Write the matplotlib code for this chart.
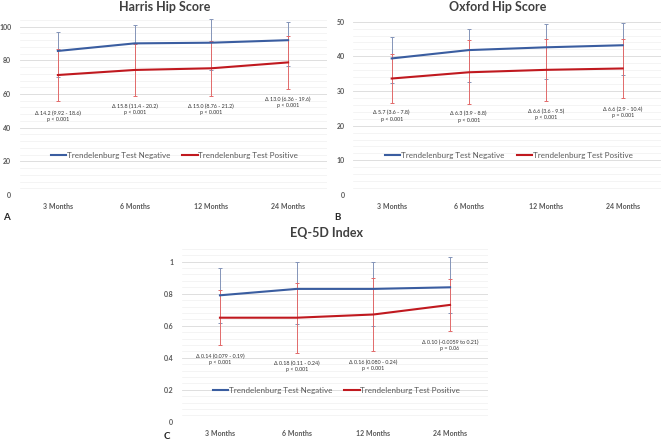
import numpy as np
import matplotlib
matplotlib.use("Agg")
import matplotlib.pyplot as plt

plt.rcParams['font.family'] = ['Lato', 'DejaVu Sans']

months = ["3 Months", "6 Months", "12 Months", "24 Months"]
labels = ["Trendelenburg Test Negative", "Trendelenburg Test Positive"]

# Harris Hip Score
hhs_neg = [85.6, 90.1, 90.5, 92.0]
hhs_neg_up = [11.4, 11.1, 13.9, 11.0]
hhs_pos = [71.3, 74.3, 75.3, 78.8]
hhs_pos_err = [15.2, 15.5, 16.5, 15.6]
hhs_notes = ["Δ 14.2 (9.92 - 18.6)\np < 0.001", "Δ 15.8 (11.4 - 20.2)\np < 0.001",
             "Δ 15.0 (8.76 - 21.2)\np < 0.001", "Δ 13.0 (6.36 - 19.6)\np < 0.001"]
hhs_note_y = [46.9, 50.7, 50.7, 55.0]

# Oxford Hip Score
ohs_neg = [39.4, 41.8, 42.6, 43.2]
ohs_neg_up = [6.1, 6.0, 6.6, 6.3]
ohs_pos = [33.6, 35.4, 36.1, 36.5]
ohs_pos_err = [7.0, 9.2, 9.0, 8.5]
ohs_notes = ["Δ 5.7 (3.6 - 7.8)\np < 0.001", "Δ 6.3 (3.9 - 8.8)\np < 0.001",
             "Δ 6.6 (3.6 - 9.5)\np < 0.001", "Δ 6.6 (2.9 - 10.4)\np = 0.001"]
ohs_note_y = [22.8, 22.5, 23.3, 23.9]

# EQ-5D Index
eq_neg = [0.79, 0.83, 0.83, 0.84]
eq_neg_up = [0.17, 0.17, 0.17, 0.19]
eq_pos = [0.65, 0.65, 0.67, 0.73]
eq_pos_err = [0.17, 0.22, 0.23, 0.16]
eq_notes = ["Δ 0.14 (0.079 - 0.19)\np < 0.001", "Δ 0.18 (0.11 - 0.24)\np < 0.001",
            "Δ 0.16 (0.080 - 0.24)\np < 0.001", "Δ 0.10 (-0.0059 to 0.21)\np = 0.06"]
eq_note_y = [0.388, 0.344, 0.353, 0.477]

BLUE = "#3A5DA0"
RED = "#C0191F"
BLUE_EB = "#8494B8"
RED_EB = "#E26A6A"
GREY = "#595959"

fig = plt.figure(figsize=(6.62, 4.48), dpi=100)


def panel(rect, neg, neg_up, pos, pos_err, notes, note_y, ymax, major, minor,
          yfmt, leg_y, title, title_xy, letter_xy, letter):
    ax = fig.add_axes(rect)
    x = np.arange(len(months))
    # blue lower error equals the red one in the source chart
    ax.errorbar(x, neg, yerr=[pos_err, neg_up], fmt='none', ecolor=BLUE_EB,
                elinewidth=0.7, capsize=1.5, capthick=0.7, zorder=2)
    ax.errorbar(x, pos, yerr=pos_err, fmt='none', ecolor=RED_EB,
                elinewidth=0.7, capsize=1.5, capthick=0.7, zorder=3)
    ax.plot(x, neg, color=BLUE, lw=1.5, label=labels[0], zorder=4)
    ax.plot(x, pos, color=RED, lw=1.5, label=labels[1], zorder=4)
    for i in range(len(months)):
        ax.text(x[i], note_y[i], notes[i], ha='center', va='center',
                fontsize=3.9, color="#333333", linespacing=1.3)
    ax.set_xlim(-0.5, len(months) - 0.5)
    ax.set_ylim(0, ymax)
    ax.set_yticks(np.arange(0, ymax + 1e-9, major))
    ax.set_yticks(np.arange(0, ymax + 1e-9, minor), minor=True)
    ax.set_yticklabels([yfmt(v) for v in np.arange(0, ymax + 1e-9, major)])
    ax.set_xticks(x)
    ax.set_xticklabels(months, fontweight='bold')
    ax.grid(axis='y', which='major', color="#D9D9D9", lw=0.6)
    ax.grid(axis='y', which='minor', color="#F0F0F0", lw=0.5)
    ax.set_axisbelow(True)
    for s in ax.spines.values():
        s.set_visible(False)
    ax.tick_params(axis='both', which='both', length=0, colors=GREY, labelsize=5)
    ax.tick_params(axis='x', pad=6)
    ax.tick_params(axis='y', pad=6)
    for t in ax.get_yticklabels():
        t.set_fontweight('bold')
    leg = ax.legend(loc='center', bbox_to_anchor=(0.505, leg_y), ncol=2,
                    frameon=False, fontsize=5.8, handlelength=1.9,
                    handletextpad=0.1, columnspacing=1.5)
    for t in leg.get_texts():
        t.set_color(GREY)
    fig.text(title_xy[0] / 662, 1 - title_xy[1] / 448, title, ha='center', va='center',
             fontsize=9, fontweight='bold', color="#404040")
    fig.text(letter_xy[0] / 662, 1 - letter_xy[1] / 448, letter, ha='left', va='center',
             fontsize=7, fontweight='bold', color="#262626")
    return ax


panel([19.5 / 662, 1 - 195 / 448, 307 / 662, 176.7 / 448],
      hhs_neg, hhs_neg_up, hhs_pos, hhs_pos_err, hhs_notes, hhs_note_y,
      105, 20, 4, lambda v: "%d" % v, 0.226, "Harris Hip Score", (165, 7), (3, 217), "A")

panel([353.2 / 662, 1 - 195 / 448, 308 / 662, 176.8 / 448],
      ohs_neg, ohs_neg_up, ohs_pos, ohs_pos_err, ohs_notes, ohs_note_y,
      51, 10, 2, lambda v: "%d" % v, 0.226, "Oxford Hip Score", (498, 7), (334, 217), "B")

panel([181.6 / 662, 1 - 421.7 / 448, 306.8 / 662, 176 / 448],
      eq_neg, eq_neg_up, eq_pos, eq_pos_err, eq_notes, eq_note_y,
      1.1, 0.2, 0.04, lambda v: "%g" % round(v, 2), 0.176, "EQ-5D Index", (326, 233), (164, 436), "C")

plt.savefig("out.png", dpi=100)
